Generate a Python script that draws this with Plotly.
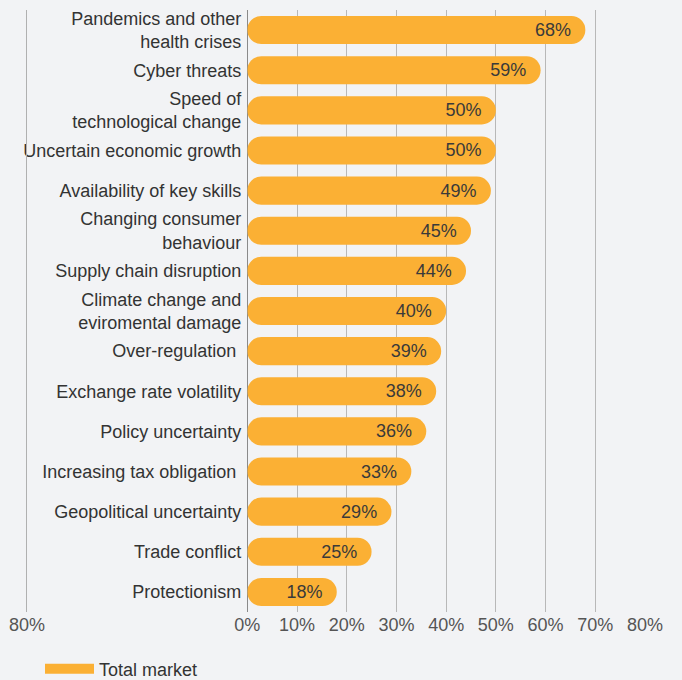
import plotly.graph_objects as go

categories = [
    "Pandemics and other<br>health crises",
    "Cyber threats",
    "Speed of<br>technological change",
    "Uncertain economic growth",
    "Availability of key skills",
    "Changing consumer<br>behaviour",
    "Supply chain disruption",
    "Climate change and<br>eviromental damage",
    "Over-regulation\u00a0",
    "Exchange rate volatility",
    "Policy uncertainty",
    "Increasing tax obligation\u00a0",
    "Geopolitical uncertainty",
    "Trade conflict",
    "Protectionism",
]
values = [68, 59, 50, 50, 49, 45, 44, 40, 39, 38, 36, 33, 29, 25, 18]
tick_vals = [0, 10, 20, 30, 40, 50, 60, 70, 80]
tick_text = ["0%", "10%", "20%", "30%", "40%", "50%", "60%", "70%", "80%"]
series_name = "Total market"

BAR = "#fbb034"
BG = "#f2f3f5"
FONT = "Liberation Sans, Arial, sans-serif"
FS = 18

fig = go.Figure()
fig.add_trace(go.Bar(
    y=categories, x=values, base=[0] * len(values), orientation="h",
    marker=dict(color=BAR, cornerradius=14, line_width=0),
    width=0.7, showlegend=False,
    text=[f"{v}%\u00a0" for v in values], textposition="inside",
    insidetextanchor="end",
    textfont=dict(family=FONT, size=FS, color="#3a3a3a"),
))
# legend entry
fig.add_trace(go.Scatter(
    x=[None], y=[None], mode="lines", name=series_name,
    line=dict(color=BAR, width=12),
))
# mirrored left axis (empty)
fig.add_trace(go.Scatter(x=[None], y=[None], xaxis="x2", yaxis="y",
                         showlegend=False, hoverinfo="skip"))

L, R = 20, 32
W = 682 - L - R
d0 = (246 - L) / W
d1 = (645 - L) / W
f25 = (25 - L) / (0.1 * W)

fig.update_layout(
    width=682, height=680,
    margin=dict(l=L, r=R, t=9, b=68),
    paper_bgcolor=BG, plot_bgcolor=BG,
    barmode="overlay",
    font=dict(family=FONT, size=FS, color="#333333"),
    xaxis=dict(
        domain=[d0, d1], range=[0, 80],
        tickvals=tick_vals, ticktext=tick_text,
        showgrid=True, gridcolor="#b8b8b8", gridwidth=1,
        zeroline=True, zerolinecolor="#8a8a8a", zerolinewidth=1,
        showline=False, ticks="",
        tickfont=dict(size=FS, color="#555555"),
        fixedrange=True,
    ),
    xaxis2=dict(
        domain=[0, 0.1], anchor="y",
        range=[80 + f25 * 10, 80 + f25 * 10 - 10],
        tickvals=[80], ticktext=["80%"],
        showgrid=True, gridcolor="#b0b0b0", gridwidth=1,
        zeroline=False, showline=False, ticks="",
        tickfont=dict(size=FS, color="#555555"),
    ),
    yaxis=dict(
        autorange="reversed", showgrid=False, ticks="",
        tickfont=dict(size=FS, color="#333333"),
        ticklabelstandoff=5,
    ),
    legend=dict(
        orientation="h", xref="container", yref="container",
        x=40 / 682, xanchor="left", y=11 / 680, yanchor="middle",
        bgcolor="rgba(0,0,0,0)", font=dict(size=FS, color="#333333"),
        itemwidth=49,
    ),
    uniformtext=dict(mode="show", minsize=FS),
)

fig.write_html("out.html")
